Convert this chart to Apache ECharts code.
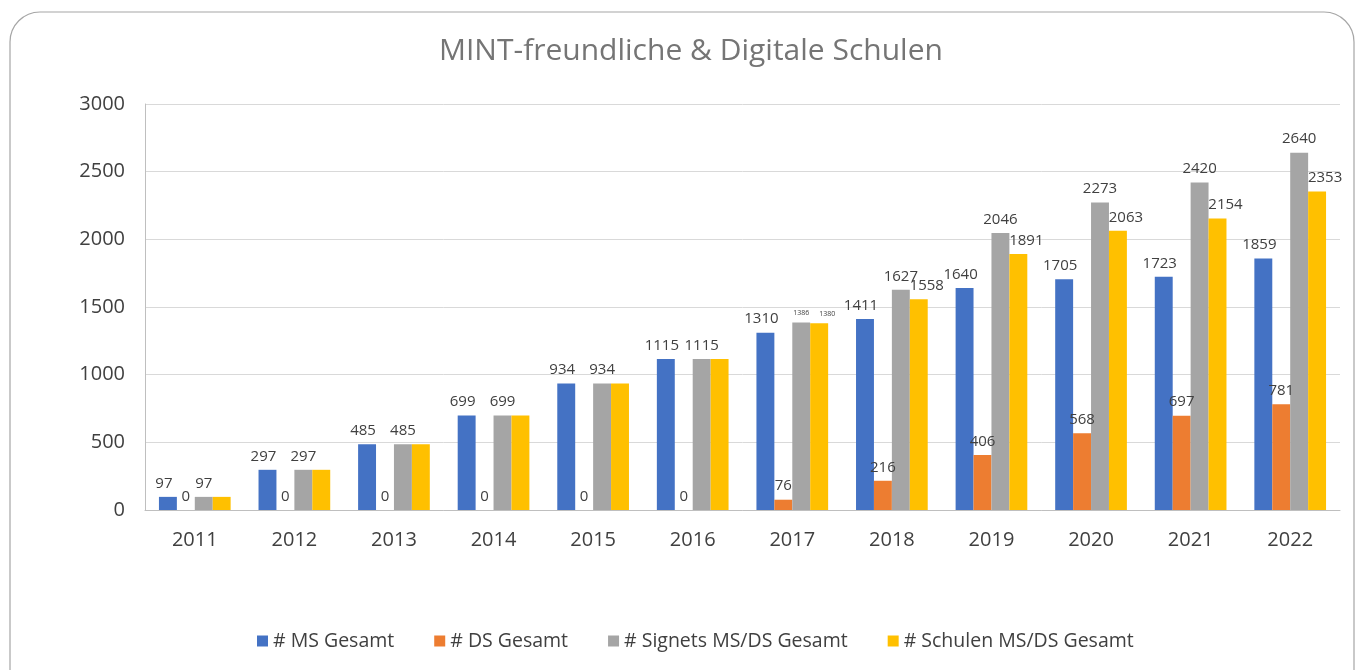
<!DOCTYPE html>
<html>
<head>
<meta charset="utf-8">
<script src="https://cdn.jsdelivr.net/npm/echarts@6/dist/echarts.min.js"></script>
<style>
html, body { margin: 0; padding: 0; background: #fff; }
#chart { width: 1357px; height: 670px; }
</style>
</head>
<body>
<div id="chart"></div>
<script>
var years = ['2011','2012','2013','2014','2015','2016','2017','2018','2019','2020','2021','2022'];
var msGesamt = [97,297,485,699,934,1115,1310,1411,1640,1705,1723,1859];
var dsGesamt = [0,0,0,0,0,0,76,216,406,568,697,781];
var signets = [97,297,485,699,934,1115,1386,1627,2046,2273,2420,2640];
var schulen = [97,297,485,699,934,1115,1380,1558,1891,2063,2154,2353];

var fontName = '"Open Sans", "Noto Sans", sans-serif';

// labels: 2017 gray/yellow are tiny, yellow hidden while equal to gray
function items(vals, kind)
{
    var out = [];
    for(var i = 0; i < vals.length; i++)
    {
        var it = {value: vals[i]};
        if(kind == 'yellow' && i < 6) it.label = {show: false};
        if((kind == 'yellow' || kind == 'gray') && years[i] == '2017') it.label = {fontSize: 7};
        out.push(it);
    }
    return out;
}

function lbl(dx)
{
    return {show: true, position: 'top', distance: 6, offset: [dx, 0], color: '#404040', fontSize: 15, fontFamily: fontName};
}

var myChart = echarts.init(document.getElementById('chart'));
var option = {
    animation: false,
    color: ['#4472C4','#ED7D31','#A5A5A5','#FFC000'],
    title: {
        text: 'MINT-freundliche & Digitale Schulen',
        left: 434, top: 31,
        textStyle: {color: '#757575', fontSize: 30, fontWeight: 'normal', fontFamily: fontName}
    },
    graphic: [{
        type: 'rect',
        shape: {x: 10, y: 12, width: 1344, height: 700, r: 30},
        style: {fill: 'none', stroke: '#a6a6a6', lineWidth: 1.2}
    }],
    legend: {
        bottom: 14, left: 252,
        itemWidth: 11, itemHeight: 11, itemGap: 40,
        icon: 'rect',
        textStyle: {color: '#404040', fontSize: 19.5, fontFamily: fontName}
    },
    grid: {left: 145, right: 17, top: 104, bottom: 160},
    xAxis: {
        type: 'category', data: years,
        axisTick: {show: false},
        axisLine: {lineStyle: {color: '#bfbfbf'}},
        axisLabel: {color: '#404040', fontSize: 20, margin: 20, fontFamily: fontName}
    },
    yAxis: {
        type: 'value', min: 0, max: 3000, interval: 500,
        axisLine: {show: true, lineStyle: {color: '#bfbfbf'}},
        splitLine: {lineStyle: {color: '#d9d9d9'}},
        axisLabel: {color: '#404040', fontSize: 20, margin: 20, fontFamily: fontName,
            formatter: function(v) { return String(v); }}
    },
    series: [
        {name: '# MS Gesamt', type: 'bar', barGap: 0, barCategoryGap: '28%', label: lbl(-4), data: items(msGesamt, 'blue')},
        {name: '# DS Gesamt', type: 'bar', barGap: 0, barCategoryGap: '28%', label: lbl(0), data: items(dsGesamt, 'orange')},
        {name: '# Signets MS/DS Gesamt', type: 'bar', barGap: 0, barCategoryGap: '28%', label: lbl(0), data: items(signets, 'gray')},
        {name: '# Schulen MS/DS Gesamt', type: 'bar', barGap: 0, barCategoryGap: '28%', label: lbl(8), data: items(schulen, 'yellow')}
    ]
};
myChart.setOption(option);
</script>
</body>
</html>
